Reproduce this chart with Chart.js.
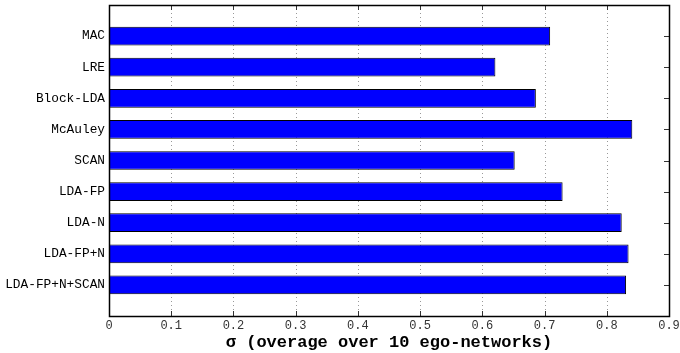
<!DOCTYPE html>
<html>
<head>
<meta charset="utf-8">
<script src="https://cdn.jsdelivr.net/npm/chart.js@4/dist/chart.umd.min.js"></script>
<style>
  html, body { margin: 0; padding: 0; background: #fff; }
  #wrap { width: 680px; height: 353px; }
</style>
</head>
<body>
<div id="wrap"><canvas id="chart" width="680" height="353"></canvas></div>
<script>
// ----------------------------------------------------------------
//  Data
// ----------------------------------------------------------------
const categories = ['MAC', 'LRE', 'Block-LDA', 'McAuley', 'SCAN', 'LDA-FP', 'LDA-N', 'LDA-FP+N', 'LDA-FP+N+SCAN'];
const sigmaValues = [0.709, 0.621, 0.686, 0.841, 0.652, 0.729, 0.824, 0.835, 0.831];
const xMin = 0;
const xMax = 0.9;
const xStep = 0.1;
const xTitle = 'σ (overage over 10 ego-networks)';

// empty slot at both ends, like a [0, n+1] y range
const labels = ['', ...categories, ''];
const values = [null, ...sigmaValues, null];

Chart.defaults.font.family = '"Liberation Mono", "Courier New", monospace';
Chart.defaults.color = '#000';

// ----------------------------------------------------------------
//  Frame, dotted grid and inward tick marks
// ----------------------------------------------------------------
const framePlugin = {
  id: 'frame',
  beforeDatasetsDraw(chart) {
    const { ctx, chartArea: a, scales: { x } } = chart;
    ctx.save();
    ctx.strokeStyle = '#999';
    ctx.lineWidth = 1;
    ctx.setLineDash([1, 3]);
    x.ticks.forEach((t, i) => {
      if (i === 0 || i === x.ticks.length - 1) return;
      const px = Math.round(x.getPixelForTick(i)) + 0.5;
      ctx.beginPath();
      ctx.moveTo(px, a.top);
      ctx.lineTo(px, a.bottom);
      ctx.stroke();
    });
    ctx.restore();
  },
  afterDatasetsDraw(chart) {
    const { ctx, chartArea: a, scales: { x, y } } = chart;
    ctx.save();
    ctx.strokeStyle = '#333';
    ctx.lineWidth = 1;
    const len = 5;
    x.ticks.forEach((t, i) => {
      const px = Math.round(x.getPixelForTick(i)) + 0.5;
      ctx.beginPath();
      ctx.moveTo(px, a.bottom);
      ctx.lineTo(px, a.bottom - len);
      ctx.moveTo(px, a.top);
      ctx.lineTo(px, a.top + len);
      ctx.stroke();
    });
    for (let i = 1; i <= categories.length; i++) {
      const py = Math.round(y.getPixelForValue(i)) + 0.5;
      ctx.beginPath();
      ctx.moveTo(a.right, py);
      ctx.lineTo(a.right - len, py);
      ctx.stroke();
    }
    ctx.strokeStyle = '#000';
    ctx.lineWidth = 1.5;
    ctx.strokeRect(Math.round(a.left) + 0.5, Math.round(a.top) + 0.5,
                   Math.round(a.right - a.left), Math.round(a.bottom - a.top));
    ctx.restore();
  }
};

new Chart(document.getElementById('chart'), {
  type: 'bar',
  data: {
    labels,
    datasets: [{
      data: values,
      backgroundColor: '#0000ff',
      borderColor: '#000',
      borderWidth: 1,
      borderSkipped: false,
      categoryPercentage: 1,
      barPercentage: 0.6,
    }]
  },
  options: {
    indexAxis: 'y',
    responsive: false,
    animation: false,
    layout: { padding: { top: 5, right: 11, bottom: 0, left: 0 } },
    plugins: { legend: { display: false }, tooltip: { enabled: false } },
    scales: {
      x: {
        type: 'linear',
        min: xMin,
        max: xMax,
        ticks: { stepSize: xStep, padding: 3, color: '#333', font: { size: 12 } },
        grid: { display: false, drawTicks: false },
        border: { display: false },
        title: {
          display: true,
          text: xTitle,
          font: { size: 17, weight: 'bold' },
          padding: { top: 0, bottom: 0 }
        },
        afterFit: s => {
          s.height = 37;
          s.paddingLeft = 0;
          s.paddingRight = 0;
        }
      },
      y: {
        type: 'category',
        offset: false,
        ticks: { padding: 4, color: '#000', font: { size: 12.8 }, autoSkip: false },
        grid: { display: false, drawTicks: false },
        border: { display: false },
        afterFit: s => {
          s.width = 109;
          s.paddingTop = 0;
          s.paddingBottom = 0;
        }
      }
    }
  },
  plugins: [framePlugin]
});
</script>
</body>
</html>
